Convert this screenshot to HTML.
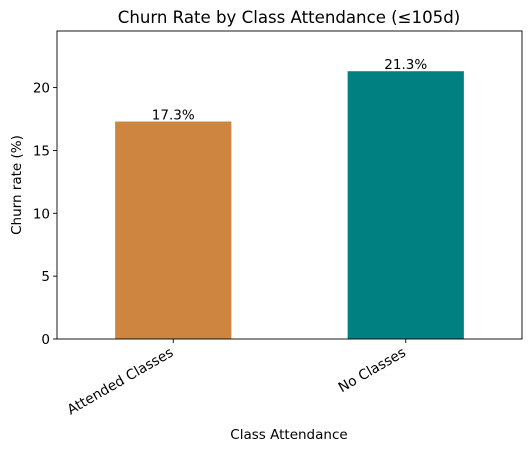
<!DOCTYPE html>
<html><head><meta charset="utf-8"><style>
body{margin:0;background:#fff;}
svg{display:block;font-family:"DejaVu Sans","Liberation Sans",sans-serif;}
</style></head><body>
<svg id="chart" width="531" height="451"></svg>
<script>
const categories = ["Attended Classes", "No Classes"];
const values = [17.3, 21.3];
const valueLabels = ["17.3%", "21.3%"];
const colors = ["#cd853f", "#008080"];
const yTicks = [0, 5, 10, 15, 20];

const svg = document.getElementById('chart');
const NS = "http://www.w3.org/2000/svg";
const L = 57, R = 522, T = 31, B = 339;
const yMax = 24.5;
const y = v => B - v / yMax * (B - T);
const x = i => L + (i + 0.5) / 2 * (R - L);
const bw = 0.5 / 2 * (R - L);
function el(tag, attrs, text) {
  const e = document.createElementNS(NS, tag);
  for (const k in attrs) e.setAttribute(k, attrs[k]);
  if (text !== undefined) e.textContent = text;
  svg.appendChild(e);
  return e;
}
let t = el('text', {x: 289, y: 23, 'text-anchor': 'middle', 'font-size': 16.6, fill: '#000'}, 'Churn Rate by Class Attendance (≤105d)');


values.forEach((v, i) => {
  const r = el('rect', {x: x(i) - bw / 2, y: y(v), width: bw, height: B - y(v), fill: colors[i]});
  
  
  const lb = el('text', {x: x(i), y: y(v) - 2, 'text-anchor': 'middle', 'font-size': 13.5, fill: '#000'}, valueLabels[i]);
  
  
  el('line', {x1: x(i), x2: x(i), y1: B, y2: B + 4, stroke: '#000', 'stroke-width': 0.9});
  const tl = el('text', {x: x(i) + 1, y: B + 16, 'text-anchor': 'end', 'font-size': 13.8, fill: '#000', transform: `rotate(-30 ${x(i) + 1} ${B + 16})`}, categories[i]);
  
  
});
yTicks.forEach(v => {
  el('line', {x1: L - 4, x2: L, y1: y(v), y2: y(v), stroke: '#000', 'stroke-width': 0.9});
  const tl = el('text', {x: L - 7, y: y(v) + 5, 'text-anchor': 'end', 'font-size': 13.5, fill: '#000'}, String(v));
  
  
});
const frame = el('rect', {x: L, y: T, width: R - L, height: B - T, fill: 'none', stroke: '#000', 'stroke-width': 0.9});


const xl = el('text', {x: 289, y: 439, 'text-anchor': 'middle', 'font-size': 13.5, fill: '#000'}, 'Class Attendance');


const yl = el('text', {x: 21, y: 185, 'text-anchor': 'middle', 'font-size': 13.5, fill: '#000', transform: 'rotate(-90 21 185)'}, 'Churn rate (%)');


</script>
</body></html>
